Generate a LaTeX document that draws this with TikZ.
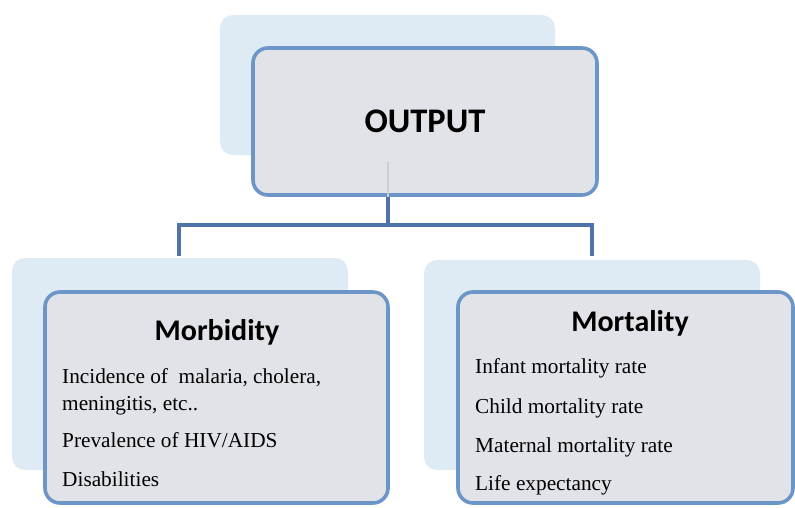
\documentclass[tikz,border=0pt]{standalone}
\usepackage{fontspec}
\setmainfont{Liberation Serif}
\newfontfamily\headfont{Carlito}
\definecolor{backblue}{RGB}{222,235,245}
\definecolor{frontgray}{RGB}{226,227,232}
\definecolor{edgeblue}{RGB}{108,149,200}
\definecolor{connblue}{RGB}{80,116,168}
\definecolor{faintline}{RGB}{205,205,218}
\tikzset{
  backbox/.style={fill=backblue, draw=none, rounded corners=13pt},
  frontbox/.style={rectangle, fill=frontgray, draw=edgeblue, line width=3.6pt, rounded corners=15pt, inner sep=0pt},
  conn/.style={draw=connblue, line width=3.5pt},
  headtxt/.style={font=\headfont\bfseries\fontsize{30}{36}\selectfont, anchor=center, inner sep=0pt},
  bodytxt/.style={font=\fontsize{21.3}{25}\selectfont, anchor=base west, inner sep=0pt}
}
\begin{document}
\begin{tikzpicture}[x=1pt,y=-1pt]
\useasboundingbox (0,0) rectangle (795,507);
% top
\fill[backbox] (220,15) rectangle (555,155);
\node[frontbox, minimum width=344pt, minimum height=147pt, font=\headfont\bfseries\fontsize{34.5}{40}\selectfont] (out) at (425,121.5) {OUTPUT};
\coordinate (j) at (388,225);
\coordinate (jl) at (179,225);
\coordinate (jr) at (592,225);
\coordinate (el) at (179,256);
\coordinate (er) at (592,256);
\coordinate (fa) at (388,162);
\draw[draw=faintline, line width=1.2pt] (fa) -- (out.south -| fa);
\draw[conn] (out.south -| j) -- (j);
\draw[conn] (el) -- (jl) -- (jr) -- (er);
% left
\fill[backbox] (12,258) rectangle (348,470);
\node[frontbox, minimum width=343pt, minimum height=211pt] (morb) at (216.5,397.5) {};
\node[headtxt] (morbh) at (217,332) {Morbidity};
\node[bodytxt] (m1) at (62,383) {Incidence of\ \ malaria, cholera,};
\node[bodytxt] (m2) at (62,410) {meningitis, etc..};
\node[bodytxt] (m3) at (62,447) {Prevalence of HIV/AIDS};
\node[bodytxt] (m4) at (62,486) {Disabilities};
% right
\fill[backbox] (424,260) rectangle (760,470);
\node[frontbox, minimum width=335pt, minimum height=211pt] (mort) at (625.5,397.5) {};
\node[headtxt] (morth) at (630,323) {Mortality};
\node[bodytxt] (r1) at (475,373) {Infant mortality rate};
\node[bodytxt] (r2) at (475,413) {Child mortality rate};
\node[bodytxt] (r3) at (475,452) {Maternal mortality rate};
\node[bodytxt] (r4) at (475,490) {Life expectancy};
\end{tikzpicture}
\end{document}
